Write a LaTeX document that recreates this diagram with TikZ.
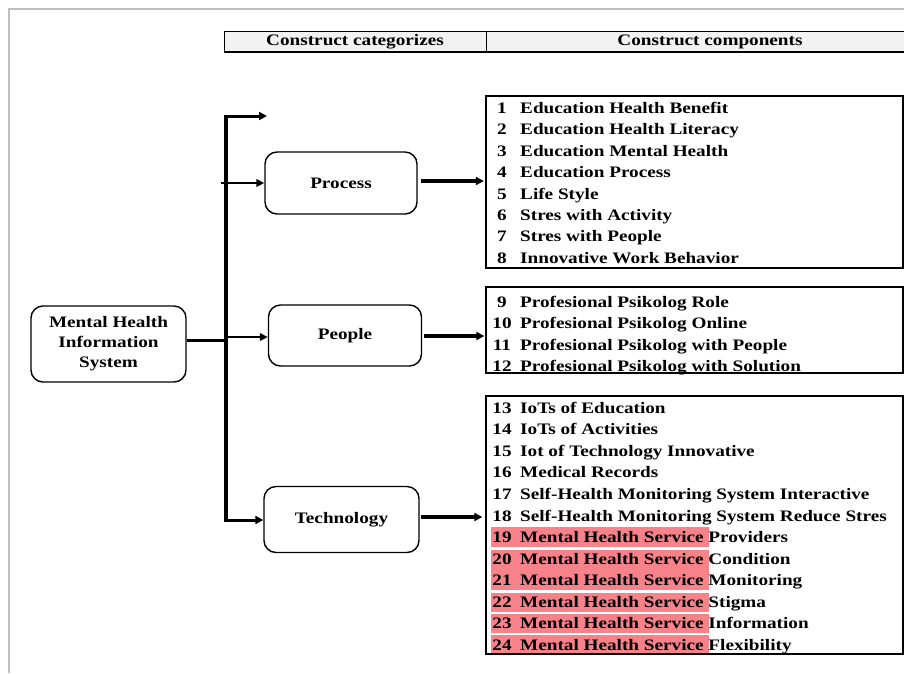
\documentclass[tikz,border=0pt]{standalone}
\usepackage{fontspec}
\setmainfont{Liberation Serif}[FakeStretch=1.2]
\usetikzlibrary{arrows.meta,calc}
\definecolor{hl}{RGB}{248,130,138}
\definecolor{framegray}{RGB}{190,190,190}
\definecolor{hdr}{RGB}{242,242,242}
\newcommand{\bodyfont}{\bfseries\fontsize{16}{20}\selectfont}
\begin{document}
\begin{tikzpicture}[x=1pt,y=-1pt,
  catbox/.style={draw, line width=1.4pt, rounded corners=12pt, font=\bodyfont, align=center, inner sep=0pt},
  listbox/.style={draw, line width=1.3pt, inner sep=0pt},
  item/.style={anchor=base west, inner sep=0pt, font=\bodyfont},
  num/.style={anchor=base, inner sep=0pt, font=\bodyfont},
  hdrtext/.style={inner sep=0pt, font=\bodyfont},
  trunk/.style={line width=3.8pt},
  conn/.style={line width=2.6pt, -{Triangle[length=8pt,width=7.5pt]}},
  conntop/.style={line width=3pt, -{Triangle[length=8pt,width=8pt]}},
  connb/.style={line width=3.8pt, -{Triangle[length=8pt,width=8pt]}}]
\useasboundingbox (0,0) rectangle (904,673);
% outer frame
\draw[framegray, line width=2pt] (8.5,673) -- (8.5,8.5) -- (904,8.5);
% header
\fill[hdr] (224,31) rectangle (904,52);
\draw[line width=1pt] (224,31) -- (904,31);
\draw[line width=1.5pt] (224,52) -- (904,52);
\draw[line width=1pt] (224,31) -- (224,52);
\draw[line width=1pt] (486,31) -- (486,52);
\node[hdrtext] (h1) at (355,42) {Construct categorizes};
\node[hdrtext] (h2) at (710,42) {Construct components};
% highlights
\fill[hl] (491,527) rectangle (709,547);
\fill[hl] (491,549.5) rectangle (709,590);
\fill[hl] (491,592.5) rectangle (709,612);
\fill[hl] (491,614) rectangle (709,633);
\fill[hl] (491,635) rectangle (709,654);
% list boxes
\node[listbox, minimum width=417pt, minimum height=172pt] (b1) at (694.5,182) {};
\node[listbox, minimum width=417pt, minimum height=86pt] (b2) at (694.5,330) {};
\node[listbox, minimum width=417pt, minimum height=258pt] (b3) at (694.5,525) {};
% items
\foreach \i/\t in {1/Education Health Benefit,2/Education Health Literacy,3/Education Mental Health,4/Education Process,5/Life Style,6/Stres with Activity,7/Stres with People,8/Innovative Work Behavior}{
  \pgfmathsetmacro{\yy}{108+21.43*(\i-1)+5.3}
  \node[num] (n\i) at (502,\yy) {\i};
  \node[item] (r\i) at (520,\yy) {\t};
}
\foreach \i/\t in {9/Profesional Psikolog Role,10/Profesional Psikolog Online,11/Profesional Psikolog with People,12/Profesional Psikolog with Solution}{
  \pgfmathsetmacro{\yy}{302+21.4*(\i-9)+5.3}
  \node[num] (n\i) at (502,\yy) {\i};
  \node[item] (r\i) at (520,\yy) {\t};
}
\foreach \i/\t in {13/IoTs of Education,14/IoTs of Activities,15/Iot of Technology Innovative,16/Medical Records,17/Self-Health Monitoring System Interactive,18/Self-Health Monitoring System Reduce Stres,19/Mental Health Service Providers,20/Mental Health Service Condition,21/Mental Health Service Monitoring,22/Mental Health Service Stigma,23/Mental Health Service Information,24/Mental Health Service Flexibility}{
  \pgfmathsetmacro{\yy}{408+21.55*(\i-13)+5.3}
  \node[num] (n\i) at (502,\yy) {\i};
  \node[item] (r\i) at (520,\yy) {\t};
}
% category nodes
\node[catbox, minimum width=155pt, minimum height=76pt] (mh) at (108.5,344) {Mental Health\\Information\\System};
\node[catbox, minimum width=152pt, minimum height=62pt] (proc) at (341,183) {Process};
\node[catbox, minimum width=153pt, minimum height=61pt] (peop) at (345,335.5) {People};
\node[catbox, minimum width=155pt, minimum height=66pt] (tech) at (341.5,519.5) {Technology};
% connector coordinates
\coordinate (jm) at (224,340.5);
\coordinate (t0) at (226,116);
\coordinate (t1) at (267,116);
\coordinate (jt) at (226,520);
\coordinate (jp) at (221,183);
\coordinate (je) at (226,337);
\coordinate (a1) at (0,181);
\coordinate (a2) at (0,336);
\coordinate (a3) at (0,517);
% connectors
\draw[line width=3pt] (mh.east |- jm) -- (jm);
\draw[trunk] ($(jt)+(0,1.5)$) -- ($(t0)+(0,-1.5)$);
\draw[conntop] ($(t0)+(-1.9,0)$) -- (t1);
\draw[conntop] ($(jt)+(-1.9,0)$) -- (tech.west |- jt);
\draw[conn] (jp) -- (proc.west |- jp);
\draw[conn] (je) -- (peop.west |- je);
\draw[connb, shorten <=3pt, shorten >=1.5pt] (proc.east |- a1) -- (b1.west |- a1);
\draw[connb, shorten <=2pt, shorten >=1pt] (peop.east |- a2) -- (b2.west |- a2);
\draw[connb, shorten <=1pt, shorten >=3pt] (tech.east |- a3) -- (b3.west |- a3);
\end{tikzpicture}
\end{document}
